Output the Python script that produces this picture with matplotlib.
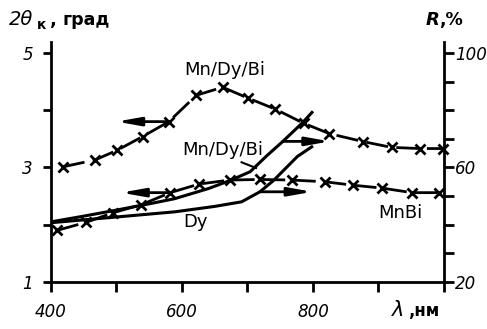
import matplotlib
matplotlib.use("Agg")
import matplotlib.pyplot as plt
from matplotlib.ticker import FixedLocator, FixedFormatter

# ---- data ----
# Kerr rotation 2θк (deg), Mn/Dy/Bi film (left axis)
wl_mndybi_kerr = [418, 467, 501, 540, 580, 622, 662, 701, 742, 786, 825, 877, 920, 963, 999]
kerr_mndybi = [3.01, 3.13, 3.30, 3.54, 3.80, 4.26, 4.40, 4.21, 4.02, 3.77, 3.59, 3.45, 3.35, 3.33, 3.33]

# Kerr rotation 2θк (deg), MnBi film (left axis)
wl_mnbi_kerr = [409, 453, 495, 538, 582, 626, 673, 719, 768, 818, 861, 905, 951, 992]
kerr_mnbi = [1.90, 2.04, 2.21, 2.35, 2.56, 2.71, 2.78, 2.79, 2.78, 2.75, 2.69, 2.64, 2.56, 2.56]

# Reflectance R (%), Mn/Dy/Bi (right axis)
wl_mndybi_r = [400, 450, 495, 550, 589, 640, 673, 704, 730, 754, 783, 800]
r_mndybi = [41.0, 43.0, 44.9, 47.3, 49.1, 52.6, 55.4, 58.5, 64.2, 69.1, 75.4, 79.6]

# Reflectance R (%), Dy (right axis)
wl_dy_r = [400, 500, 589, 650, 691, 719, 740, 776, 800]
r_dy = [40.7, 42.7, 44.5, 46.4, 48.0, 51.5, 55.5, 63.8, 67.5]

x_ticks = [400, 500, 600, 700, 800, 900, 1000]
x_labels = ["400", "", "600", "", "800", "", ""]
left_ticks = [1, 2, 3, 4, 5]
left_labels = ["1", "", "3", "", "5"]
right_ticks = [20, 30, 40, 50, 60, 70, 80, 90, 100]
right_labels = ["20", "", "", "", "60", "", "", "", "100"]

W, H = 487, 329
fig = plt.figure(figsize=(W / 100, H / 100), dpi=100)
L, R_, B, T = 51, 444, 282, 42
ax = fig.add_axes([L / W, 1 - B / H, (R_ - L) / W, (B - T) / H])
ax2 = ax.twinx()

YMAX = 5.19
ax.set_xlim(400, 1000)
ax.set_ylim(1, YMAX)
ax2.set_ylim(20, 20 * YMAX)

for a in (ax, ax2):
    a.spines["top"].set_visible(False)
    for s in ("left", "right", "bottom"):
        a.spines[s].set_linewidth(2.0)
ax.spines["right"].set_visible(False)
ax2.spines["left"].set_visible(False)
ax2.spines["bottom"].set_visible(False)

ax.xaxis.set_major_locator(FixedLocator(x_ticks))
ax.xaxis.set_major_formatter(FixedFormatter(x_labels))
ax.yaxis.set_major_locator(FixedLocator(left_ticks))
ax.yaxis.set_major_formatter(FixedFormatter(left_labels))
ax2.yaxis.set_major_locator(FixedLocator(right_ticks))
ax2.yaxis.set_major_formatter(FixedFormatter(right_labels))

ax.tick_params(axis="x", direction="out", length=7, width=2, pad=8)
ax.tick_params(axis="y", direction="out", length=6, width=2, pad=7)
ax2.tick_params(axis="y", direction="out", length=7, width=2, pad=1)
for lab in ax.get_xticklabels() + ax.get_yticklabels() + ax2.get_yticklabels():
    lab.set_fontstyle("italic")
    lab.set_fontsize(12)

dash = (0, (8, 3))
ax.plot(wl_mndybi_kerr, kerr_mndybi, color="k", lw=2, linestyle=dash,
        marker="x", ms=6.5, mew=2, clip_on=False)
ax.plot(wl_mnbi_kerr, kerr_mnbi, color="k", lw=2, linestyle=dash,
        marker="x", ms=6.5, mew=2, clip_on=False)
ax2.plot(wl_mndybi_r, r_mndybi, color="k", lw=2.2, solid_capstyle="butt")
ax2.plot(wl_dy_r, r_dy, color="k", lw=2.2, solid_capstyle="butt")

arrow = dict(arrowstyle="-|>,head_length=1.4,head_width=0.25", lw=2, color="k",
             shrinkA=0, shrinkB=0, mutation_scale=10)
# arrows pointing to the axis each curve belongs to
ax.annotate("", xy=(wl_mndybi_kerr[4] - 80, kerr_mndybi[4]),
            xytext=(wl_mndybi_kerr[4], kerr_mndybi[4]), arrowprops=arrow)
ax.annotate("", xy=(wl_mnbi_kerr[4] - 75, kerr_mnbi[4]),
            xytext=(wl_mnbi_kerr[4], kerr_mnbi[4]), arrowprops=arrow)
ax2.annotate("", xy=(wl_mndybi_r[9] + 72, r_mndybi[9]),
             xytext=(wl_mndybi_r[9], r_mndybi[9]), arrowprops=arrow)
ax2.annotate("", xy=(wl_dy_r[5] + 80, r_dy[5]),
             xytext=(wl_dy_r[5], r_dy[5]), arrowprops=arrow)

lab = dict(fontsize=13, color="k", ha="center", va="center")
ax.text(665, 4.70, "Mn/Dy/Bi", **lab)
ax.text(662, 3.30, "Mn/Dy/Bi", **lab)
ax.text(621, 2.05, "Dy", **lab)
ax.text(933, 2.20, "MnBi", **lab)
ax.plot([691, 713], [3.09, 2.99], color="k", lw=1.5)

def ftext(x, y, s, **kw):
    fig.text(x / W, 1 - y / H, s, va="baseline", ha="left", **kw)

ftext(9, 25, "2θ", fontsize=14, style="italic")
ftext(37, 29, "к", fontsize=10, weight="bold")
ftext(50, 25, ",", fontsize=13, weight="bold")
ftext(62, 25, "град", fontsize=12.5, weight="bold")
ftext(426, 25, "R", fontsize=13, style="italic", weight="bold")
ftext(439, 25, ",%", fontsize=12.5, weight="bold")
ftext(392, 316, "λ", fontsize=15, style="italic")
ftext(408, 316, ",нм", fontsize=12, weight="bold")

fig.savefig("out.png", dpi=100)
